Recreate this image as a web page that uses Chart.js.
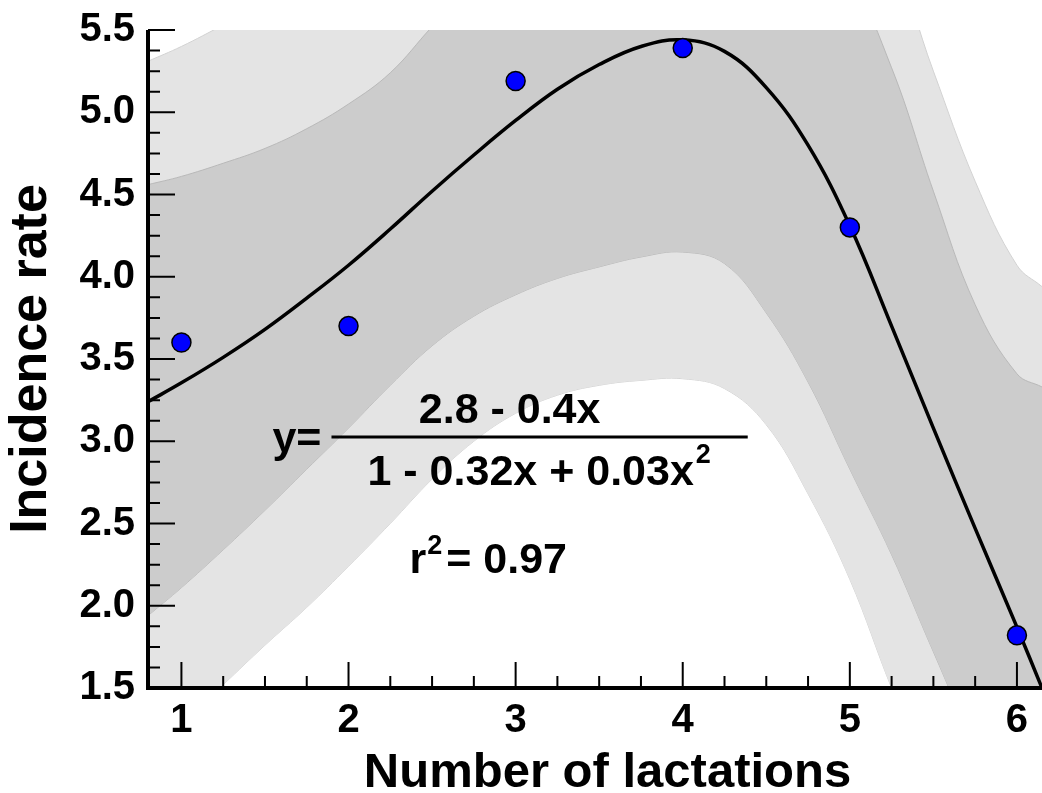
<!DOCTYPE html>
<html>
<head>
<meta charset="utf-8">
<script src="https://cdn.jsdelivr.net/npm/chart.js@4.4.1/dist/chart.umd.min.js"></script>
<style>
    html, body { margin: 0; padding: 0; background: #ffffff; }
    #wrap { width: 1042px; height: 793px; }
</style>
</head>
<body>
<div id="wrap"><canvas id="graphCanvas" width="1042" height="793"></canvas></div>
<script>
        // observed incidence per lactation
        var lactations = [1, 2, 3, 4, 5, 6];
        var incidence = [3.6, 3.7, 5.19, 5.39, 4.3, 1.82];

        // fitted curve and bands
        var curveX    = [0.8, 1.0, 1.25, 1.5, 1.75, 2.0, 2.25, 2.5, 2.75, 3.0, 3.25, 3.5, 3.75, 4.0, 4.25, 4.5, 4.75, 5.0, 5.25, 5.5, 5.75, 6.0, 6.15];
        var fitY      = [3.24, 3.355, 3.51, 3.68, 3.87, 4.07, 4.29, 4.52, 4.74, 4.95, 5.14, 5.29, 5.40, 5.44, 5.37, 5.15, 4.80, 4.31, 3.70, 3.08, 2.47, 1.87, 1.50];
        var confUpper = [4.56, 4.61, 4.69, 4.78, 4.90, 5.05, 5.24, 5.52, 5.78, 6.00, 6.15, 6.25, 6.30, 6.30, 6.25, 6.15, 6.00, 5.80, 5.27, 4.52, 3.83, 3.41, 3.33];
        var confLower = [1.94, 2.11, 2.34, 2.58, 2.83, 3.08, 3.34, 3.58, 3.76, 3.89, 3.99, 4.06, 4.12, 4.15, 4.08, 3.78, 3.36, 2.83, 2.31, 1.72, 1.15, 0.70, 0.50];
        var predUpper = [5.31, 5.40, 5.53, 5.66, 5.80, 5.95, 6.10, 6.30, 6.50, 6.65, 6.80, 6.90, 6.95, 6.95, 6.90, 6.80, 6.60, 6.30, 5.95, 5.25, 4.58, 4.07, 3.94];
        var predLower = [1.10, 1.28, 1.52, 1.76, 1.99, 2.24, 2.50, 2.77, 3.00, 3.17, 3.28, 3.34, 3.37, 3.38, 3.32, 3.10, 2.68, 2.16, 1.50, 0.90, 0.40, 0.00, -0.20];

        var xTicks = [1, 2, 3, 4, 5, 6];
        var yTicks = [1.5, 2.0, 2.5, 3.0, 3.5, 4.0, 4.5, 5.0, 5.5];

        var FONT = "'Liberation Sans', Arial, sans-serif";

        function pts(xs, ys) {
            var out = [];
            for (var i = 0; i < xs.length; i++) out.push({x: xs[i], y: ys[i]});
            return out;
        }

        function band(data, fill, border, fillColor, order) {
            return {
                data: data,
                fill: fill,
                backgroundColor: fillColor,
                borderColor: border,
                borderWidth: 1,
                pointRadius: 0,
                tension: 0.4,
                order: order
            };
        }

        // inward ticks, axis lines, x title and the equation text
        var axisDecor = {
            id: 'axisDecor',
            afterDatasetsDraw: function (chart) {
                var ctx = chart.ctx;
                var a = chart.chartArea;
                var xs = chart.scales.x;
                var ys = chart.scales.y;
                var v, p, len;
                ctx.save();
                ctx.strokeStyle = '#000';
                ctx.lineWidth = 2;
                ctx.beginPath();
                for (v = xTicks[0]; v <= xTicks[xTicks.length - 1] + 1e-6; v += 0.25) {
                    p = xs.getPixelForValue(v);
                    len = Math.abs(v - Math.round(v)) < 1e-6 ? 26 : 12;
                    ctx.moveTo(p, a.bottom);
                    ctx.lineTo(p, a.bottom - len);
                }
                for (v = yTicks[0]; v <= yTicks[yTicks.length - 1] + 1e-6; v += 0.125) {
                    p = ys.getPixelForValue(v);
                    len = Math.abs(v * 2 - Math.round(v * 2)) < 1e-6 ? 27 : 12;
                    ctx.moveTo(a.left, p);
                    ctx.lineTo(a.left + len, p);
                }
                ctx.stroke();

                ctx.lineWidth = 4;
                ctx.beginPath();
                ctx.moveTo(a.left, a.top);
                ctx.lineTo(a.left, a.bottom);
                ctx.lineTo(a.right, a.bottom);
                ctx.stroke();

                ctx.fillStyle = '#000';
                ctx.textBaseline = 'alphabetic';

                // x axis title, centred a little right of the axis middle as in the figure
                ctx.textAlign = 'center';
                ctx.font = 'bold 49px ' + FONT;
                ctx.fillText('Number of lactations', xs.getPixelForValue(3.55), chart.height - 6);

                // y = (2.8 - 0.4x) / (1 - 0.32x + 0.03x^2)
                ctx.font = 'bold 43px ' + FONT;
                var lineY = ys.getPixelForValue(3.026);
                ctx.lineWidth = 3;
                ctx.beginPath();
                ctx.moveTo(xs.getPixelForValue(1.898), lineY);
                ctx.lineTo(xs.getPixelForValue(4.389), lineY);
                ctx.stroke();

                ctx.textAlign = 'right';
                ctx.fillText('y=', xs.getPixelForValue(1.838), ys.getPixelForValue(2.935));

                ctx.textAlign = 'center';
                ctx.fillText('2.8 - 0.4x', xs.getPixelForValue(2.964), ys.getPixelForValue(3.11));

                var den = '1 - 0.32x + 0.03x';
                var denX = xs.getPixelForValue(3.09);
                var denY = ys.getPixelForValue(2.734);
                ctx.fillText(den, denX, denY);
                var denW = ctx.measureText(den).width;
                ctx.textAlign = 'left';
                ctx.font = 'bold 27px ' + FONT;
                ctx.fillText('2', denX + denW / 2 + 2, denY - 22);

                var rX = xs.getPixelForValue(2.365);
                var rY = ys.getPixelForValue(2.199);
                ctx.font = 'bold 43px ' + FONT;
                ctx.fillText('r', rX, rY);
                var rW = ctx.measureText('r').width;
                ctx.font = 'bold 27px ' + FONT;
                ctx.fillText('2', rX + rW + 1, rY - 19);
                ctx.font = 'bold 43px ' + FONT;
                ctx.fillText('= 0.97', rX + rW + 20, rY);
                ctx.restore();
            }
        };

        var graphTarget = document.getElementById('graphCanvas');

        var chart = new Chart(graphTarget, {
            type: 'line',
            data: {
                datasets: [
                    {
                        label: 'observed',
                        data: pts(lactations, incidence),
                        showLine: false,
                        pointRadius: 9.5,
                        pointBackgroundColor: '#0000ff',
                        pointBorderColor: '#000000',
                        pointBorderWidth: 1.5,
                        clip: false,
                        order: 0
                    },
                    {
                        label: 'fit',
                        data: pts(curveX, fitY),
                        borderColor: '#000000',
                        borderWidth: 3.5,
                        pointRadius: 0,
                        fill: false,
                        tension: 0.4,
                        order: 1
                    },
                    band(pts(curveX, confUpper), '+1', '#b9b9b9', '#cccccc', 2),
                    band(pts(curveX, confLower), false, '#b9b9b9', '#cccccc', 3),
                    band(pts(curveX, predUpper), '+1', '#d2d2d2', '#e4e4e4', 4),
                    band(pts(curveX, predLower), false, '#d2d2d2', '#e4e4e4', 5)
                ]
            },
            options: {
                responsive: false,
                devicePixelRatio: 1,
                animation: false,
                layout: { autoPadding: false, padding: { top: 30, right: 0, left: 0, bottom: 0 } },
                plugins: {
                    legend: { display: false },
                    tooltip: { enabled: false }
                },
                scales: {
                    x: {
                        type: 'linear',
                        min: 0.8,
                        max: 6.15,
                        afterBuildTicks: function (scale) {
                            scale.ticks = xTicks.map(function (v) { return {value: v}; });
                        },
                        afterFit: function (scale) {
                            scale.height = 105;
                            scale.paddingLeft = 0;
                            scale.paddingRight = 0;
                        },
                        grid: { display: false, drawTicks: false },
                        border: { display: false },
                        ticks: {
                            autoSkip: false,
                            maxRotation: 0,
                            padding: 9,
                            color: '#000',
                            font: { family: FONT, size: 40, weight: 'bold' }
                        },
                        title: { display: false }
                    },
                    y: {
                        type: 'linear',
                        min: 1.5,
                        max: 5.5,
                        afterBuildTicks: function (scale) {
                            scale.ticks = yTicks.map(function (v) { return {value: v}; });
                        },
                        afterFit: function (scale) {
                            scale.width = 148;
                            scale.paddingTop = 0;
                            scale.paddingBottom = 0;
                        },
                        grid: { display: false, drawTicks: false },
                        border: { display: false },
                        ticks: {
                            autoSkip: false,
                            padding: 13,
                            color: '#000',
                            font: { family: FONT, size: 40, weight: 'bold' },
                            callback: function (value) { return Number(value).toFixed(1); }
                        },
                        title: {
                            display: true,
                            text: 'Incidence rate',
                            color: '#000',
                            padding: { top: 3, bottom: 0 },
                            font: { family: FONT, size: 52, weight: 'bold', lineHeight: 1.1 }
                        }
                    }
                }
            },
            plugins: [axisDecor]
        });
</script>
</body>
</html>
